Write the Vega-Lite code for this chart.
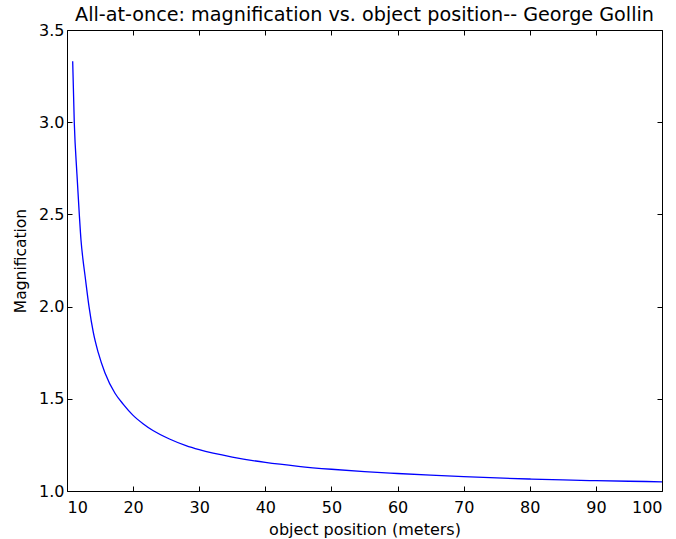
{
  "$schema": "https://vega.github.io/schema/vega-lite/v6.json",
  "autosize": {"type": "none"},
  "width": 595,
  "height": 461,
  "padding": {"left": 67, "top": 30, "right": 14, "bottom": 48},
  "background": "white",
  "config": {
    "font": "DejaVu Sans",
    "view": {"stroke": "black", "strokeWidth": 1},
    "axis": {"grid": false, "domain": false, "tickColor": "black", "labelColor": "black", "titleColor": "black", "labelFont": "DejaVu Sans", "titleFont": "DejaVu Sans", "labelFontSize": 16, "titleFontSize": 16, "titleFontWeight": "normal", "tickSize": -5}
  },
  "title": {"text": "All-at-once: magnification vs. object position-- George Gollin", "font": "DejaVu Sans", "fontSize": 19.2, "fontWeight": "normal", "color": "black", "offset": 2, "dy": 5, "anchor": "middle"},
  "data": {"values": [
    {"d": 10.86, "m": 3.33},
    {"d": 11.1, "m": 3.0},
    {"d": 11.5, "m": 2.72},
    {"d": 11.86, "m": 2.5},
    {"d": 12.12, "m": 2.36},
    {"d": 12.4, "m": 2.26},
    {"d": 12.72, "m": 2.17},
    {"d": 13.33, "m": 2.0},
    {"d": 13.98, "m": 1.86},
    {"d": 14.73, "m": 1.75},
    {"d": 15.75, "m": 1.64},
    {"d": 17.26, "m": 1.53},
    {"d": 18.52, "m": 1.47},
    {"d": 20.0, "m": 1.41},
    {"d": 21.5, "m": 1.365},
    {"d": 23.0, "m": 1.328},
    {"d": 25.5, "m": 1.282},
    {"d": 28.0, "m": 1.246},
    {"d": 30.0, "m": 1.224},
    {"d": 35.0, "m": 1.184},
    {"d": 40.0, "m": 1.155},
    {"d": 45.0, "m": 1.134},
    {"d": 50.0, "m": 1.118},
    {"d": 55.0, "m": 1.105},
    {"d": 60.0, "m": 1.095},
    {"d": 65.0, "m": 1.086},
    {"d": 70.0, "m": 1.078},
    {"d": 75.0, "m": 1.071},
    {"d": 80.0, "m": 1.065},
    {"d": 85.0, "m": 1.06},
    {"d": 90.0, "m": 1.056},
    {"d": 95.0, "m": 1.053},
    {"d": 100.0, "m": 1.05}
  ]},
  "layer": [
    {
      "mark": {"type": "line", "color": "#0000ff", "strokeWidth": 1.3, "interpolate": "monotone"},
      "encoding": {
        "x": {"field": "d", "type": "quantitative", "scale": {"domain": [10, 100], "nice": false, "zero": false},
              "axis": {"title": "object position (meters)", "values": [10,20,30,40,50,60,70,80,90,100], "format": "d", "labelPadding": 13, "titlePadding": 6}},
        "y": {"field": "m", "type": "quantitative", "scale": {"domain": [1, 3.5], "nice": false, "zero": false},
              "axis": {"title": "Magnification", "titleFontSize": 15.5, "values": [1,1.5,2,2.5,3,3.5], "format": ".1f", "labelPadding": 8, "titlePadding": 10}}
      }
    },
    {
      "mark": {"type": "line", "opacity": 0},
      "encoding": {
        "x": {"field": "d", "type": "quantitative", "axis": {"orient": "top", "labels": false, "title": null, "values": [10,20,30,40,50,60,70,80,90,100]}},
        "y": {"field": "m", "type": "quantitative", "axis": {"orient": "right", "labels": false, "title": null, "values": [1,1.5,2,2.5,3,3.5]}}
      }
    }
  ],
  "resolve": {"axis": {"x": "independent", "y": "independent"}}
}
